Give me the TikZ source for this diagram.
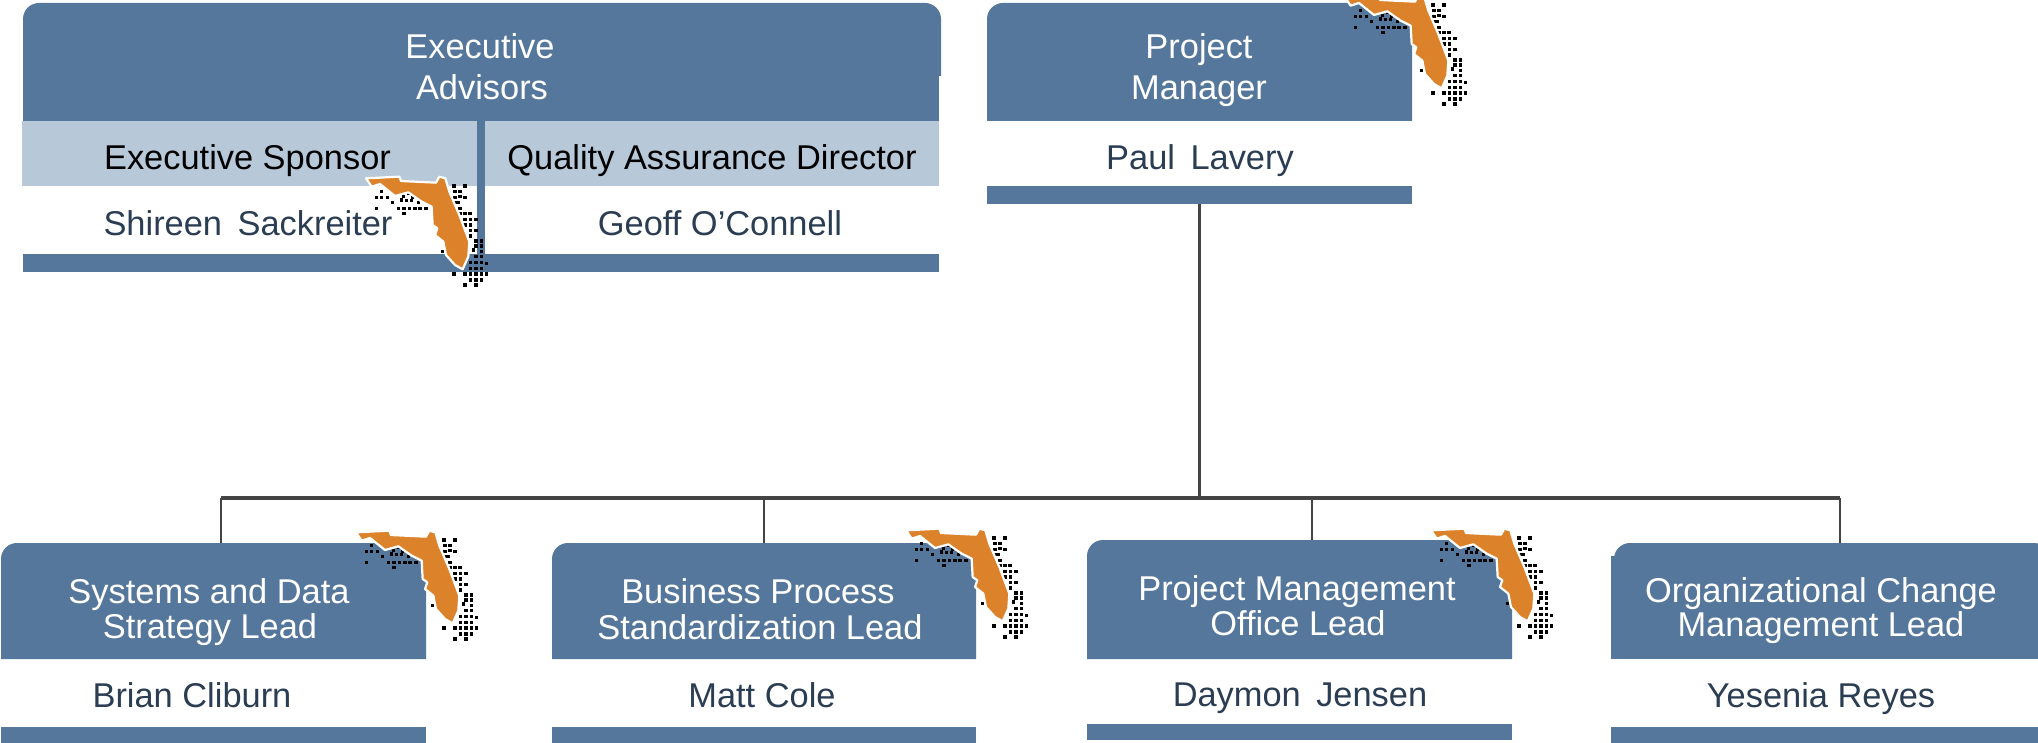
\documentclass[tikz,border=0pt]{standalone}
\usepackage{fontspec}
\setmainfont{Liberation Sans}
\usetikzlibrary{backgrounds}
\definecolor{headblue}{HTML}{55779B}
\definecolor{bandblue}{HTML}{B7C8D9}
\definecolor{nametext}{HTML}{2B3D52}
\definecolor{fl}{HTML}{DC822A}
\definecolor{conn}{HTML}{444444}
\tikzset{
  area/.style={inner sep=0pt,outer sep=0pt,draw=none},
  solidarea/.style={area,fill=headblue},
  bandarea/.style={area,fill=bandblue},
  txt/.style={inner sep=0pt,outer sep=0pt,font=\fontsize{34.4}{41}\selectfont,anchor=base},
  hdtxt/.style={txt,text=white,align=center},
  nametxt/.style={txt,text=nametext},
  roletxt/.style={txt,text=black},
  connector/.style={draw=conn,line width=2.4pt},
  busline/.style={draw=conn,line width=3.2pt},
  state/.style={fill=fl,draw=white,line width=2.2pt,line join=round},
}
% name, x1, y1, x2, y2, style
\newcommand\area[6]{\node[#6,minimum width={(#4-#2)*1pt},minimum height={(#5-#3)*1pt}] (#1) at ({(#2+#4)/2},{(#3+#5)/2}) {};}
\newcommand\tophead[1]{\fill[headblue] (#1.south west) [rounded corners=16pt] -- (#1.north west) -- (#1.north east) [sharp corners] -- (#1.south east) -- cycle;}
\newcommand\gap{\hspace{0.45em}}
\newcommand\florida[2]{%
\begin{scope}[shift={(#1,#2)},x=.3333pt,y=-.3333pt]
\foreach \a/\b in {342/78,375/78,125/95,345/95,360/95,110/112,125/112,142/112,205/100,190/110,218/112,235/112,345/112,360/110,375/112,158/128,185/120,200/122,215/122,235/128,345/128,355/128,110/145,175/145,192/145,208/145,225/145,240/145,258/145,360/145,192/160,360/160,375/160,390/160,375/178,392/178,408/178,375/195,392/195,392/212,408/212,392/228,408/243,425/243,408/258,425/258,308/275,400/270,425/275,408/290,425/290,392/308,408/308,425/308,440/310,392/325,408/325,425/325,342/342,375/342,392/342,408/342,425/342,440/342,392/360,408/360,425/360,375/375,408/375}
  {\fill[black] (\a-5,\b-5) rectangle (\a+5,\b+5);}
\path[state] (78,55) -- (178,50) -- (183,63) -- (288,68) -- (298,50) -- (316,55) -- (328,95) -- (358,165) -- (388,245) -- (385,290) -- (368,328) -- (345,315) -- (318,285) -- (310,245) -- (285,225) -- (292,205) -- (278,195) -- (275,140) -- (245,125) -- (205,97) -- (165,108) -- (120,72) -- (95,80) -- cycle;
\end{scope}}
\begin{document}
\begin{tikzpicture}[x=1pt,y=-1pt]
\useasboundingbox (0,0) rectangle (2038,743);
% header zones
\area{exh}{23}{3}{941}{76}{area}
\area{pmh}{987}{3}{1412}{121}{area}
\area{h1}{1}{543}{426}{659}{area}
\area{h2}{552}{543}{976}{659}{area}
\area{h3}{1087}{540}{1512}{659}{area}
\area{h4}{1614}{543}{2050}{560}{area}
\begin{scope}[on background layer]
\tophead{exh}\tophead{pmh}\tophead{h1}\tophead{h2}\tophead{h3}\tophead{h4}
\end{scope}
\area{exl}{23}{76}{939}{121}{solidarea}
\area{h4l}{1611}{556}{2038}{659}{solidarea}
% executive advisors table
\area{bandl}{22}{121}{477}{186}{bandarea}
\area{bandr}{485}{121}{939}{186}{bandarea}
\area{divider}{477}{121}{485}{254}{solidarea}
\area{exbar}{23}{254}{939}{272}{solidarea}
% bars
\area{pmbar}{987}{186}{1412}{204}{solidarea}
\area{b1}{1}{727}{426}{743}{solidarea}
\area{b2}{552}{727}{976}{743}{solidarea}
\area{b3}{1087}{724}{1512}{740}{solidarea}
\area{b4}{1611}{727}{2038}{743}{solidarea}
% connectors
\coordinate (busl) at (221,498);
\coordinate (busr) at (1840,498);
\coordinate (d1) at (221,543);
\coordinate (d2) at (764,543);
\coordinate (d3) at (1312,540);
\coordinate (d4) at (1840,543);
\draw[connector] (pmbar.south) -- (pmbar.south |- busl);
\draw[busline] (busl) -- (busr);
\draw[connector] (d1) -- (d1 |- busl);
\draw[connector] (d2) -- (d2 |- busl);
\draw[connector] (d3) -- (d3 |- busl);
\draw[connector] (d4) -- (d4 |- busl);
% text
\node[hdtxt] (t0a) at (480,58.5) {Executive};
\node[hdtxt] (t0b) at (482,99.5) {Advisors};
\node[roletxt] (r1) at (247.5,169.5) {Executive Sponsor};
\node[roletxt] (r2) at (712,169.5) {Quality Assurance Director};
\node[nametxt] (n1) at (248,235.5) {Shireen\gap Sackreiter};
\node[nametxt] (n2) at (720,235.5) {Geoff O’Connell};
\node[hdtxt] (tpa) at (1199,58.5) {Project};
\node[hdtxt] (tpb) at (1199,99.5) {Manager};
\node[nametxt] (np) at (1200,170) {Paul\gap Lavery};
\node[hdtxt] (t1a) at (209,603) {Systems and Data};
\node[hdtxt] (t1b) at (210,638) {Strategy Lead};
\node[nametxt] (n3) at (192,707.5) {Brian Cliburn};
\node[hdtxt] (t2a) at (758,603) {Business Process};
\node[hdtxt] (t2b) at (760,639) {Standardization Lead};
\node[nametxt] (n4) at (762,707.5) {Matt Cole};
\node[hdtxt] (t3a) at (1297,600) {Project Management};
\node[hdtxt] (t3b) at (1298,635) {Office Lead};
\node[nametxt] (n5) at (1300,706) {Daymon\gap Jensen};
\node[hdtxt] (t4a) at (1821,602) {Organizational Change};
\node[hdtxt] (t4b) at (1821,636) {Management Lead};
\node[nametxt] (n6) at (1821,707.5) {Yesenia Reyes};
% state marks
\florida{340}{160}
\florida{1319}{-21}
\florida{330}{514}
\florida{880}{512}
\florida{1405}{512}
\end{tikzpicture}
\end{document}
